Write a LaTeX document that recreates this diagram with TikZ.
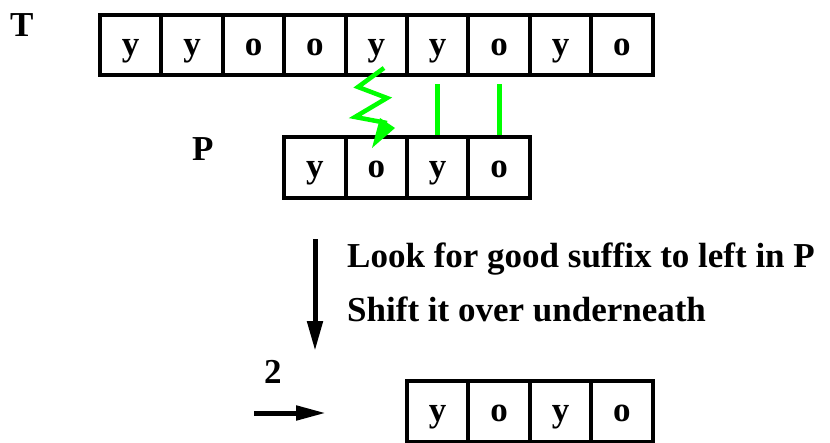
\documentclass[tikz,border=0pt]{standalone}
\usepackage{fontspec}
\setmainfont{Liberation Serif}
\usetikzlibrary{arrows.meta}
\definecolor{brightgreen}{RGB}{0,255,0}
\begin{document}
\begin{tikzpicture}[x=1pt,y=-1pt,
  cell/.style={draw=black, line width=4pt, minimum width=61.4pt, inner sep=0pt,
    text height=20pt, text depth=0pt, font=\bfseries\fontsize{35}{42}\selectfont},
  lbl/.style={inner sep=0pt, anchor=base west, font=\bfseries\fontsize{35}{42}\selectfont},
  match/.style={draw=brightgreen, line width=5pt},
  bigarrow/.style={line width=5pt, -{Triangle[length=30pt,width=15pt]}}]
\useasboundingbox (0,0) rectangle (830,442);
\clip (0,0) rectangle (830,442);
% text array T
\foreach \c [count=\i] in {y,y,o,o,y,y,o,y,o}
  \node[cell, minimum height=60pt] (t\i) at ({100+61.4*(\i-0.5)},45) {\c};
% pattern P
\foreach \c [count=\i] in {y,o,y,o}
  \node[cell, minimum height=61pt] (p\i) at ({100+61.4*(\i+2.5)},167.5) {\c};
% shifted pattern
\foreach \c [count=\i] in {y,o,y,o}
  \node[cell, minimum height=61pt] (b\i) at ({100+61.4*(\i+4.5)},411) {\c};
% labels
\node[lbl] (lt) at (10,36) {T};
\node[lbl] (lp) at (192,160) {P};
\node[lbl] (l2) at (264,383) {2};
\node[lbl] (txt1) at (347,267) {Look for good suffix to left in P};
\node[lbl] (txt2) at (347,321) {Shift it over underneath};
% matches
\draw[match] ([yshift=-7pt]t6.south) -- (p3.north);
\draw[match] ([yshift=-7pt]t7.south) -- (p4.north);
% mismatch zigzag
\draw[draw=brightgreen, line width=4.5pt, line join=miter]
  (384,68) -- (358,87) -- (387,98) -- (355,117) -- (387,123);
\fill[brightgreen] (380,118) -- (395,128) -- (372,148) -- cycle;
% arrows
\coordinate (da1) at (315,239);
\coordinate (da2) at (315,351);
\draw[bigarrow] (da1) -- (da2);
\coordinate (ra1) at (254,413);
\coordinate (ra2) at (326,413);
\draw[bigarrow, -{Triangle[length=30pt,width=14pt]}] (ra1) -- (ra2);
\end{tikzpicture}
\end{document}
